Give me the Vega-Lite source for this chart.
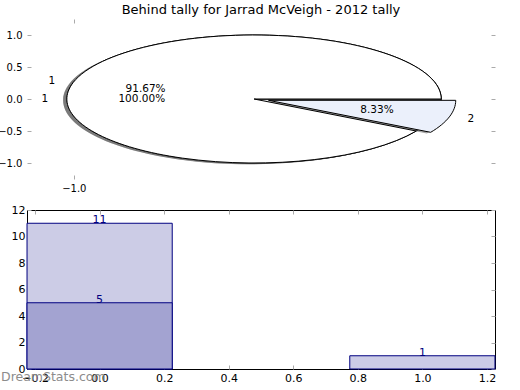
{
  "$schema": "https://vega.github.io/schema/vega-lite/v6.json",
  "padding": {"left": -3, "right": 0, "top": 3, "bottom": 0},
  "background": "white",
  "spacing": 10,
  "resolve": {"scale": {"color": "independent", "shape": "independent"}},
  "datasets": {
    "pie": [
      {"pie": "A", "key": "A1", "value": 1},
      {"pie": "B", "key": "B1", "value": 11},
      {"pie": "B", "key": "B2", "value": 1}
    ],
    "pielabels": [
      {"text": "1", "lx": -1.137, "ly": 0, "kind": "left"},
      {"text": "1", "lx": -1.0995, "ly": 0.2847, "kind": "left"},
      {"text": "2", "lx": 1.103, "ly": -0.3056, "kind": "right"},
      {"text": "100.00%", "lx": -0.637, "ly": 0, "kind": "pct"},
      {"text": "91.67%", "lx": -0.6166, "ly": 0.1553, "kind": "pct"},
      {"text": "8.33%", "lx": 0.6198, "ly": -0.176, "kind": "pct"}
    ],
    "bars": [
      {"pos": 0, "count": 11, "group": "all"},
      {"pos": 0, "count": 5, "group": "behind"},
      {"pos": 1, "count": 1, "group": "all"}
    ]
  },
  "config": {
    "font": "DejaVu Sans",
    "view": {"stroke": "black", "strokeWidth": 1},
    "axis": {
      "labelFont": "DejaVu Sans",
      "labelFontSize": 11,
      "labelColor": "black",
      "tickColor": "#aaaaaa",
      "tickSize": -4,
      "tickWidth": 1,
      "domain": false,
      "grid": false,
      "labelPadding": 5,
      "title": null
    },
    "title": {"font": "DejaVu Sans", "fontSize": 13, "fontWeight": "normal", "color": "black"}
  },
  "vconcat": [
    {
      "width": 468,
      "height": 160,
      "view": {"stroke": null},
      "title": {"text": "Behind tally for Jarrad McVeigh - 2012 tally", "offset": 2},
      "resolve": {"axis": {"x": "independent", "y": "independent"}},
      "layer": [
        {
          "data": {"name": "pie"},
          "transform": [{"filter": "datum.pie === 'A'"}],
          "mark": {"type": "point", "filled": true, "size": 140175, "opacity": 0.5, "strokeWidth": 0},
          "encoding": {
            "x": {"datum": -0.057, "type": "quantitative", "scale": {"domain": [-1.25, 1.25], "nice": false}, "axis": {"orient": "bottom", "values": [-1], "format": ".1f", "labelPadding": 8, "labelFontSize": 10}},
            "y": {"datum": -0.02, "type": "quantitative", "scale": {"domain": [-1.25, 1.25], "nice": false}, "axis": {"orient": "left", "values": [-1, -0.5, 0, 0.5, 1], "format": ".1f", "labelPadding": 9, "labelFontSize": 10}},
            "shape": {"field": "key", "type": "nominal", "legend": null, "scale": {"domain": ["A1", "B1", "B2"], "range": ["M0,0L1,0A1,0.34188,0,1,0,-1,0A1,0.34188,0,1,0,1,0Z", "M0,0L1,0A1,0.34188,0,1,0,0.86603,0.17094Z", "M0.07727,0.00708L0.9433,0.17802A1,0.34188,0,0,0,1.07727,0.00708Z"]}},
            "color": {"value": "#4d4d4d"}
          }
        },
        {
          "data": {"name": "pie"},
          "transform": [{"filter": "datum.pie === 'A'"}],
          "mark": {"type": "point", "filled": true, "size": 140175, "opacity": 1, "stroke": "black", "strokeWidth": 1},
          "encoding": {
            "x": {"datum": -0.037, "type": "quantitative", "scale": {"domain": [-1.25, 1.25], "nice": false}, "axis": null},
            "y": {"datum": 0, "type": "quantitative", "scale": {"domain": [-1.25, 1.25], "nice": false}, "axis": null},
            "shape": {"field": "key", "type": "nominal", "legend": null},
            "color": {"value": "white"}
          }
        },
        {
          "data": {"name": "pie"},
          "transform": [{"filter": "datum.pie === 'B'"}],
          "mark": {"type": "point", "filled": true, "size": 140175, "opacity": 0.5, "strokeWidth": 0},
          "encoding": {
            "x": {"datum": -0.057, "type": "quantitative", "scale": {"domain": [-1.25, 1.25], "nice": false}, "axis": null},
            "y": {"datum": -0.02, "type": "quantitative", "scale": {"domain": [-1.25, 1.25], "nice": false}, "axis": null},
            "shape": {"field": "key", "type": "nominal", "legend": null},
            "color": {"value": "#4d4d4d"}
          }
        },
        {
          "data": {"name": "pie"},
          "transform": [{"filter": "datum.pie === 'B'"}],
          "mark": {"type": "point", "filled": true, "size": 140175, "opacity": 1, "stroke": "black", "strokeWidth": 1},
          "encoding": {
            "x": {"datum": -0.037, "type": "quantitative", "scale": {"domain": [-1.25, 1.25], "nice": false}, "axis": null},
            "y": {"datum": 0, "type": "quantitative", "scale": {"domain": [-1.25, 1.25], "nice": false}, "axis": null},
            "shape": {"field": "key", "type": "nominal", "legend": null},
            "color": {"field": "key", "type": "nominal", "legend": null, "scale": {"domain": ["A1", "B1", "B2"], "range": ["white", "white", "#ebf0fb"]}}
          }
        },
        {
          "data": {"name": "pielabels"},
          "transform": [{"filter": "datum.kind === 'left'"}],
          "mark": {"type": "text", "align": "right", "baseline": "middle", "fontSize": 10.5, "color": "black"},
          "encoding": {
            "x": {"field": "lx", "type": "quantitative", "scale": {"domain": [-1.25, 1.25], "nice": false}, "axis": null},
            "y": {"field": "ly", "type": "quantitative", "scale": {"domain": [-1.25, 1.25], "nice": false}, "axis": null},
            "text": {"field": "text"}
          }
        },
        {
          "data": {"name": "pielabels"},
          "transform": [{"filter": "datum.kind === 'right'"}],
          "mark": {"type": "text", "align": "left", "baseline": "middle", "fontSize": 10.5, "color": "black"},
          "encoding": {
            "x": {"field": "lx", "type": "quantitative", "scale": {"domain": [-1.25, 1.25], "nice": false}, "axis": null},
            "y": {"field": "ly", "type": "quantitative", "scale": {"domain": [-1.25, 1.25], "nice": false}, "axis": null},
            "text": {"field": "text"}
          }
        },
        {
          "data": {"name": "pielabels"},
          "transform": [{"filter": "datum.kind === 'pct'"}],
          "mark": {"type": "text", "align": "center", "baseline": "middle", "fontSize": 10.5, "color": "black"},
          "encoding": {
            "x": {"field": "lx", "type": "quantitative", "scale": {"domain": [-1.25, 1.25], "nice": false}, "axis": {"orient": "top", "values": [-1], "labels": false}},
            "y": {"field": "ly", "type": "quantitative", "scale": {"domain": [-1.25, 1.25], "nice": false}, "axis": {"orient": "right", "values": [-1, -0.5, 0, 0.5, 1], "labels": false}},
            "text": {"field": "text"}
          }
        }
      ]
    },
    {
      "width": 468,
      "height": 159,
      "title": {"text": "DreamStats.com", "orient": "bottom", "anchor": "start", "frame": "group", "offset": -12, "dx": -26, "color": "#8c8c8c", "fontSize": 12.5, "fontWeight": "normal", "baseline": "top"},
      "resolve": {"axis": {"x": "independent", "y": "independent"}},
      "layer": [
        {
          "data": {"name": "bars"},
          "mark": {"type": "bar", "width": 145.2, "stroke": "#000080", "strokeWidth": 1, "opacity": 1},
          "encoding": {
            "x": {"field": "pos", "type": "quantitative", "scale": {"domain": [-0.225, 1.225], "nice": false, "zero": false, "padding": 0}, "axis": {"orient": "bottom", "values": [-0.2, 0, 0.2, 0.4, 0.6, 0.8, 1, 1.2], "format": ".1f", "labelPadding": 7}},
            "y": {"field": "count", "type": "quantitative", "stack": null, "scale": {"domain": [0, 12], "nice": false}, "axis": {"orient": "left", "values": [0, 2, 4, 6, 8, 10, 12], "labelPadding": 6}},
            "color": {"field": "group", "type": "nominal", "legend": null, "scale": {"domain": ["all", "behind"], "range": ["#ccccE6", "#a3a3d1"]}}
          }
        },
        {
          "mark": {"type": "rule", "color": "#bbbbbb", "strokeDash": [1, 2], "strokeWidth": 1},
          "encoding": {
            "x": {"datum": 0.6, "type": "quantitative", "scale": {"domain": [-0.225, 1.225], "nice": false, "zero": false, "padding": 0}, "axis": null}
          }
        },
        {
          "data": {"name": "bars"},
          "mark": {"type": "text", "align": "center", "baseline": "alphabetic", "fontSize": 11, "color": "#000080"},
          "encoding": {
            "x": {"field": "pos", "type": "quantitative", "scale": {"domain": [-0.225, 1.225], "nice": false, "zero": false, "padding": 0}, "axis": {"orient": "top", "values": [-0.2, 0, 0.2, 0.4, 0.6, 0.8, 1, 1.2], "labels": false}},
            "y": {"field": "count", "type": "quantitative", "scale": {"domain": [0, 12], "nice": false}, "axis": {"orient": "right", "values": [0, 2, 4, 6, 8, 10, 12], "labels": false}},
            "text": {"field": "count"}
          }
        }
      ]
    }
  ]
}
